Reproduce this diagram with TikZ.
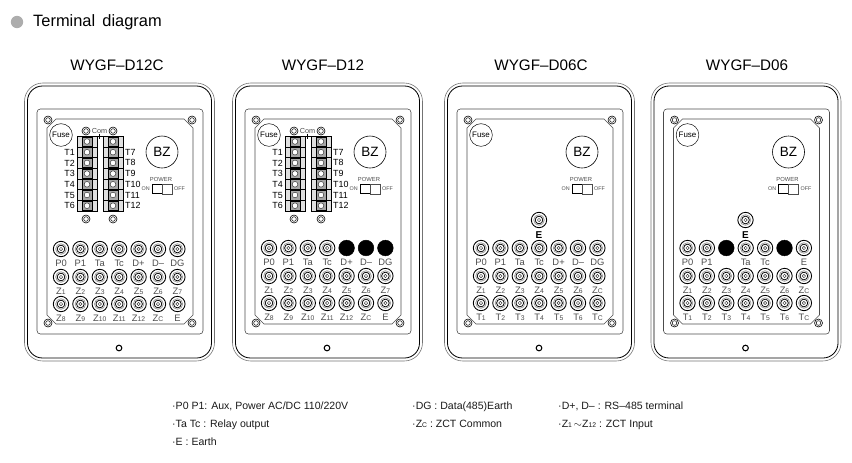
\documentclass[tikz,border=0pt]{standalone}
\usepackage{fontspec}
\setmainfont{Liberation Sans}
\usetikzlibrary{backgrounds}
\definecolor{labgray}{gray}{0.3}
\definecolor{ringgray}{gray}{0.6}
\newcommand{\fs}[1]{\fontsize{#1}{#1}\selectfont}
\newcommand{\lo}[1]{{\fontsize{5.8}{5.8}\selectfont #1}}
\tikzset{
  pin/.style={circle,draw=black,line width=0.75pt,inner sep=0,minimum size=0.46cm,
    path picture={
      \draw[ringgray,line width=0.6pt] (path picture bounding box.center) circle (0.16cm);
      \draw[black,line width=0.65pt] (path picture bounding box.center) circle (0.115cm);
      \draw[black!80,line width=0.4pt] (path picture bounding box.center) circle (0.05cm);
    }},
  blackpin/.style={circle,fill=black,draw=black,inner sep=0,minimum size=0.47cm},
  screw/.style={circle,draw=black,line width=0.5pt,inner sep=0,minimum size=0.24cm,
    path picture={
      \draw[black,line width=0.4pt] (path picture bounding box.center) circle (0.07cm);
    }},
  tlab/.style={inner sep=0,text=labgray,font=\fs{8},text height=6pt,text depth=0pt},
  blk/.style={inner sep=0,text=black,font=\fs{7.6}},
  cell/.style={draw=black,line width=0.6pt,fill=black!12,inner sep=0,minimum width=0.6cm,minimum height=0.321cm},
  core/.style={draw=black,fill=black!35,line width=0.3pt,inner sep=0,minimum width=0.3cm,minimum height=0.28cm},
  hole/.style={circle,draw=black!80,line width=0.4pt,fill=white,inner sep=0,minimum size=0.17cm},
  note/.style={inner sep=0,anchor=base west,text=black!90,font=\fs{9}},
  model/.style={inner sep=0,font=\fs{13}},
}

% one row of terminals
\newcommand{\termrow}[4]{
  \foreach \l/\s [count=\i from 0] in {#4} {
    \node[\s] (#1#2\i) at ({61+19.4*\i},#3) {};
    \node[tlab] (#1#2l\i) at ({61+19.4*\i},#3+14) {\l};
  }
}
% the front plate, same on all four
\newcommand{\plate}[1]{
  \draw[black!55,line width=0.5pt,rounded corners=0.55cm] (24.5,83) rectangle (214.5,361);
  \draw[black,line width=0.7pt,rounded corners=0.45cm] (27.5,86) rectangle (211.5,358);
  \draw[black!70,line width=0.5pt,rounded corners=0.1cm] (37,109) rectangle (203,334);
  \draw[black!70,line width=0.5pt] (56,119) -- (184,119) -- (193,128) -- (193,315) -- (184,324) -- (56,324) -- (47,315) -- (47,128) -- cycle;
  \node[screw] (#1s1) at (48,120) {};
  \node[screw] (#1s2) at (192,120) {};
  \node[screw] (#1s3) at (48,323) {};
  \node[screw] (#1s4) at (192,323) {};
  \node[circle,draw=black,line width=0.9pt,inner sep=0,minimum size=0.17cm] (#1hole) at (119,348) {};
  \node[circle,draw=black,line width=0.4pt,fill=white,inner sep=0,minimum size=0.68cm,font=\fs{6.8}] (#1fuse) at (61,135) {Fuse};
  \node[circle,draw=black,line width=0.5pt,inner sep=0,minimum size=0.96cm,font=\fs{11.5}] (#1bz) at (162,152) {BZ};
  \node[inner sep=0,font=\fs{5},text=labgray] (#1pow) at (161,179) {POWER};
  \node[draw=black,line width=0.6pt,inner sep=0,minimum width=0.3cm,minimum height=0.29cm] (#1on) at (157,189) {};
  \node[draw=black!70,line width=0.4pt,inner sep=0,minimum width=0.3cm,minimum height=0.29cm] (#1off) at (167,189) {};
  \node[inner sep=0,font=\fs{4.6},text=labgray,anchor=east] (#1ont) at (150,189) {ON};
  \node[inner sep=0,font=\fs{4.6},text=labgray,anchor=west] (#1offt) at (174,189) {OFF};
}
% the two screw blocks of the 12 channel models
\newcommand{\blocks}[1]{
  \foreach \i in {0,...,6} {
    \node[cell] (#1a\i) at (87,{141.5+10.7*\i}) {};
    \node[core] (#1ac\i) at (87,{141.5+10.7*\i}) {};
    \node[hole] (#1ah\i) at (87,{141.5+10.7*\i}) {};
    \node[cell] (#1b\i) at (113,{141.5+10.7*\i}) {};
    \node[core] (#1bc\i) at (113,{141.5+10.7*\i}) {};
    \node[hole] (#1bh\i) at (113,{141.5+10.7*\i}) {};
  }
  \foreach \t [count=\i] in {T1,T2,T3,T4,T5,T6} {
    \node[blk,anchor=east] (#1tl\i) at (75,{141.5+10.7*\i}) {\t};
  }
  \foreach \t [count=\i] in {T7,T8,T9,T10,T11,T12} {
    \node[blk,anchor=west] (#1tr\i) at (125,{141.5+10.7*\i}) {\t};
  }
  \node[screw] (#1u1) at (86,131) {};
  \node[screw] (#1u2) at (113,131) {};
  \node[screw] (#1d1) at (86,219) {};
  \node[screw] (#1d2) at (113,219) {};
  \node[inner sep=0,font=\fs{6.2},text=labgray] (#1com) at (99.5,131) {Com};
  \draw[black,line width=0.4pt] (#1a0.north east) -- (#1b0.north west);
  \draw[black,line width=0.4pt] (#1com.south) -- ++(0,5);
}

\begin{document}
\begin{tikzpicture}[x=0.03cm,y=-0.03cm]
  \useasboundingbox (0,0) rectangle (852,462);
  \node[circle,fill=black!32,inner sep=0,minimum size=0.37cm] (dot) at (17,22) {};
  \node[inner sep=0,anchor=west,font=\fs{14}] (head) at (33,22) {Terminal\, diagram};

  \node[model] (m1) at (117,65) {WYGF--D12C};
  \node[model] (m2) at (323,65) {WYGF--D12};
  \node[model] (m3) at (541,65) {WYGF--D06C};
  \node[model] (m4) at (747,65) {WYGF--D06};

  \begin{scope}
    \plate{a}
    \blocks{a}
    \termrow{a}{p}{249}{P0/pin,P1/pin,Ta/pin,Tc/pin,D+/pin,D--/pin,DG/pin}
    \termrow{a}{q}{277}{Z\lo{1}/pin,Z\lo{2}/pin,Z\lo{3}/pin,Z\lo{4}/pin,Z\lo{5}/pin,Z\lo{6}/pin,Z\lo{7}/pin}
    \termrow{a}{r}{304}{Z\lo{8}/pin,Z\lo{9}/pin,Z\lo{10}/pin,Z\lo{11}/pin,Z\lo{12}/pin,Z\lo{C}/pin,E/pin}
  \end{scope}
  \begin{scope}[shift={(208,0)}]
    \plate{b}
    \blocks{b}
    \termrow{b}{p}{248}{P0/pin,P1/pin,Ta/pin,Tc/pin,D+/blackpin,D--/blackpin,DG/blackpin}
    \termrow{b}{q}{276}{Z\lo{1}/pin,Z\lo{2}/pin,Z\lo{3}/pin,Z\lo{4}/pin,Z\lo{5}/pin,Z\lo{6}/pin,Z\lo{7}/pin}
    \termrow{b}{r}{303}{Z\lo{8}/pin,Z\lo{9}/pin,Z\lo{10}/pin,Z\lo{11}/pin,Z\lo{12}/pin,Z\lo{C}/pin,E/pin}
  \end{scope}
  \begin{scope}[shift={(420,0)}]
    \plate{c}
    \node[pin] (ce) at (119,220) {};
    \node[inner sep=0,font=\bfseries\fs{8.5}] (cel) at (119,235) {E};
    \termrow{c}{p}{248}{P0/pin,P1/pin,Ta/pin,Tc/pin,D+/pin,D--/pin,DG/pin}
    \termrow{c}{q}{276}{Z\lo{1}/pin,Z\lo{2}/pin,Z\lo{3}/pin,Z\lo{4}/pin,Z\lo{5}/pin,Z\lo{6}/pin,Z\lo{C}/pin}
    \termrow{c}{r}{303}{T\lo{1}/pin,T\lo{2}/pin,T\lo{3}/pin,T\lo{4}/pin,T\lo{5}/pin,T\lo{6}/pin,T\lo{C}/pin}
  \end{scope}
  \begin{scope}[shift={(626.5,0)}]
    \plate{d}
    \node[pin] (de) at (119,220) {};
    \node[inner sep=0,font=\bfseries\fs{8.5}] (del) at (119,235) {E};
    \termrow{d}{p}{248}{P0/pin,P1/pin,/blackpin,Ta/pin,Tc/pin,/blackpin,E/pin}
    \termrow{d}{q}{276}{Z\lo{1}/pin,Z\lo{2}/pin,Z\lo{3}/pin,Z\lo{4}/pin,Z\lo{5}/pin,Z\lo{6}/pin,Z\lo{C}/pin}
    \termrow{d}{r}{303}{T\lo{1}/pin,T\lo{2}/pin,T\lo{3}/pin,T\lo{4}/pin,T\lo{5}/pin,T\lo{6}/pin,T\lo{C}/pin}
  \end{scope}

  \node[note] (n1) at (172,409) {·P0 P1: Aux, Power AC/DC 110/220V};
  \node[note] (n2) at (172,427) {·Ta Tc : Relay output};
  \node[note] (n3) at (172,445) {·E : Earth};
  \node[note] (n4) at (412,409) {·DG : Data(485)Earth};
  \node[note] (n5) at (412,427) {·Z\lo{C} : ZCT Common};
  \node[note] (n6) at (558,409) {·D+, D-- : RS--485 terminal};
  \node[note] (n7) at (558,427) {·Z\lo{1}\,$\sim$Z\lo{12} : ZCT Input};
\end{tikzpicture}
\end{document}
